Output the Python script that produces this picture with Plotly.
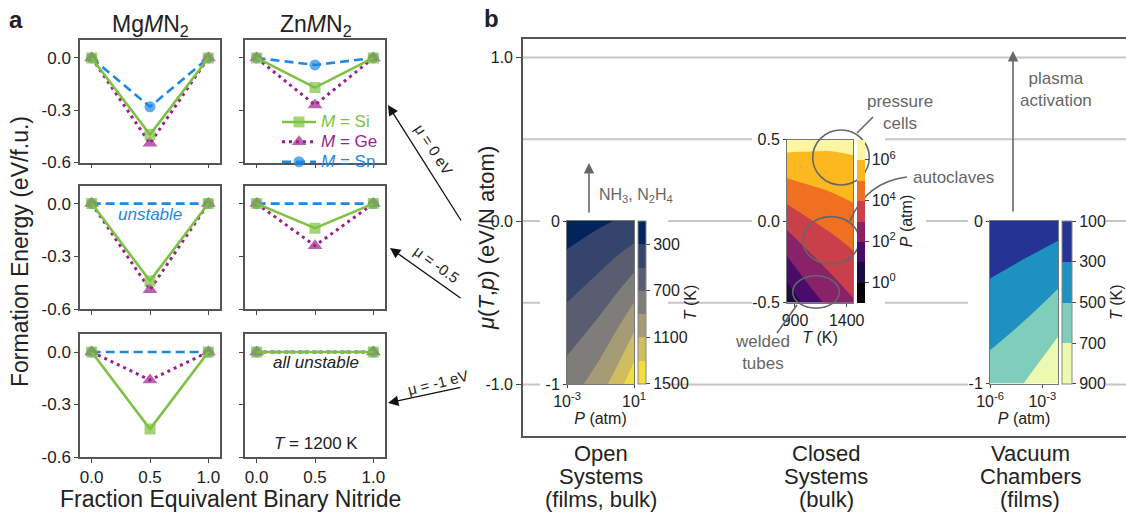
import plotly.graph_objects as go

W, H = 1126, 512
def X(px): return px / W
def Y(py): return 1 - py / H

FONT = "Liberation Sans, Arial, Helvetica, sans-serif"
INK = "#222222"
GRAY = "#666666"
FRAME = "#555555"

# ---------------- data: panel a ----------------
fraction = [0.0, 0.5, 1.0]
mu_rows = ["0 eV", "-0.5", "-1 eV"]
binary_end = 0.0
# formation energy of the 50 % compound (eV/f.u.) at each chemical potential row
mg_si = [-0.44, -0.44, -0.44]
mg_ge = [-0.49, -0.49, -0.16]
mg_sn = [-0.28, 0.00, 0.00]
zn_si = [-0.17, -0.14, 0.00]
zn_ge = [-0.27, -0.24, 0.00]
zn_sn = [-0.04, 0.00, 0.00]
hosts = ["Mg<i>M</i>N<sub>2</sub>", "Zn<i>M</i>N<sub>2</sub>"]
a_yticks = [0.0, -0.3, -0.6]
a_xticks = [0.0, 0.5, 1.0]

# ---------------- data: panel b insets ----------------
# open systems: T (K) over log10 P (atm) x mu (eV)
open_logp = [-3, -2, -1, 0, 1]
open_mu = [-1.0, 0.0]
open_T_mu_m1 = [806, 900, 1020, 1200, 1450]
open_T_mu_0 = [194, 230, 270, 310, 350]
open_levels = [300, 500, 700, 900, 1100, 1300]
open_T_range = [100, 1500]
open_cb_ticks = [300, 700, 1100, 1500]

# closed systems: log10 P (atm) over T (K) x mu (eV)
closed_T = [823, 1040, 1250, 1461]
closed_mu = [-0.5, 0.5]
closed_logp_mu_m05 = [0.2, 1.5, 2.3, 2.9]
closed_logp_mu_05 = [6.5, 6.36, 6.29, 6.33]
closed_logp_range = [-1, 7]
closed_cb_ticks = [0, 2, 4, 6]

# vacuum chambers: T (K) over log10 P (atm) x mu (eV)
vac_logp = [-6, -4, -2.1]
vac_mu = [-1.0, 0.0]
vac_T_mu_m1 = [593, 705, 895]
vac_T_mu_0 = [140, 178, 218]
vac_T_range = [100, 900]
vac_cb_ticks = [100, 300, 500, 700, 900]

# ---------------- styles ----------------
STY = {
    "Si": dict(color="#7dc242", dash="solid", symbol="square", size=11, width=2.6, rank=1),
    "Ge": dict(color="#9b1f8c", dash="3px,4px", symbol="triangle-up", size=13, width=3, rank=2),
    "Sn": dict(color="#1f88e3", dash="9px,5px", symbol="circle", size=11, width=2.6, rank=3),
}
series = {"Mg": {"Si": mg_si, "Ge": mg_ge, "Sn": mg_sn},
          "Zn": {"Si": zn_si, "Ge": zn_ge, "Sn": zn_sn}}

cols_px = [(80, 220), (245, 385)]
rows_px = [(40, 162.5), (185.5, 309), (334, 457)]

fig = go.Figure()
layout = dict(
    width=W, height=H, margin=dict(l=0, r=0, t=0, b=0),
    paper_bgcolor="white", plot_bgcolor="white", template="none",
    font=dict(family=FONT, color=INK, size=16), showlegend=True,
)

def aid(i):
    return "" if i == 1 else str(i)

for r in range(3):
    for c, host in enumerate(["Mg", "Zn"]):
        idx = r * 2 + c + 1
        for m in ["Sn", "Ge", "Si"]:
            st = STY[m]
            mid = series[host][m][r]
            stable = mid < 0
            sizes = [st["size"], st["size"] if stable else 0, st["size"]]
            fig.add_trace(go.Scatter(
                x=fraction, y=[binary_end, mid, binary_end], mode="lines+markers",
                xaxis="x" + aid(idx), yaxis="y" + aid(idx),
                line=dict(color=st["color"], dash=st["dash"], width=st["width"]),
                marker=dict(symbol=st["symbol"], size=sizes, color=st["color"], line=dict(width=0)),
                name=f"<span style='font-size:17px;color:{st['color']}'><i>M</i> = {m}</span>",
                legendrank=st["rank"], showlegend=(idx == 1), hoverinfo="skip"))
        x0, x1 = cols_px[c]
        y0, y1 = rows_px[r]
        layout["xaxis" + aid(idx)] = dict(
            domain=[X(x0), X(x1)], range=[-0.1, 1.1], anchor="y" + aid(idx),
            tickmode="array", tickvals=a_xticks,
            ticktext=[f"{v:.1f}" for v in a_xticks] if r == 2 else ["", "", ""],
            ticks="outside", ticklen=4, tickcolor="#444", tickfont=dict(size=17),
            showline=True, mirror=True, linecolor=FRAME, linewidth=1.5,
            showgrid=False, zeroline=False)
        layout["yaxis" + aid(idx)] = dict(
            domain=[Y(y1), Y(y0)], range=[-0.6, 0.103], anchor="x" + aid(idx),
            tickmode="array", tickvals=a_yticks,
            ticktext=[f"{v:.1f}" for v in a_yticks] if c == 0 else ["", "", ""],
            ticks="outside", ticklen=4, tickcolor="#444", tickfont=dict(size=17),
            showline=True, mirror=True, linecolor=FRAME, linewidth=1.5,
            showgrid=False, zeroline=False)

# ---------------- panel b main axis ----------------
PB_L, PB_R, PB_T, PB_B = 523, 1126, 39, 436
MU0_PY, PX_PER_MU = 221, 163.5
def bx(px): return (px - PB_L) / (PB_R - PB_L)
def by(py): return (MU0_PY - py) / PX_PER_MU

layout["xaxis7"] = dict(domain=[X(PB_L), 1.0], range=[0, 1], anchor="y7",
                        showline=True, mirror=True, linecolor=FRAME, linewidth=1.6,
                        showticklabels=False, ticks="", showgrid=False, zeroline=False)
layout["yaxis7"] = dict(domain=[Y(PB_B), Y(PB_T)], range=[by(PB_B), by(PB_T)], anchor="x7",
                        tickmode="array", tickvals=[-1, 0, 1], ticktext=["-1.0", "0.0", "1.0"],
                        ticks="outside", ticklen=5, tickcolor="#444", tickfont=dict(size=16),
                        showline=True, mirror=False, linecolor=FRAME, linewidth=1.6,
                        showgrid=False, zeroline=False)
fig.add_trace(go.Scatter(x=[None], y=[None], xaxis="x7", yaxis="y7", showlegend=False, hoverinfo="skip"))

def band_scale(colors):
    n = len(colors) - 1
    return [[i / n, col] for i, col in enumerate(colors)]

def cbar(x_px, top_px, bot_px, thick, tickvals, ticktext, title, outline):
    return dict(x=X(x_px), xanchor="left", xpad=0, ypad=0,
                y=Y((top_px + bot_px) / 2), yanchor="middle",
                lenmode="pixels", len=bot_px - top_px, thickness=thick,
                tickmode="array", tickvals=tickvals, ticktext=ticktext,
                ticks="outside", ticklen=4, tickcolor="#444", tickfont=dict(size=16, color=INK),
                outlinewidth=1 if outline else 0, outlinecolor="#888",
                title=dict(text=title, side="right", font=dict(size=16, color=INK)))

def inward(vals, lo, hi, eps):
    # keep edge ticks just inside the colour bar so they are drawn
    out = []
    for v in vals:
        if abs(v - lo) < 1e-9:
            v = v + eps
        elif abs(v - hi) < 1e-9:
            v = v - eps
        out.append(v)
    return out

# open systems (colour = T, reversed bar via -T)
open_cols = ["#f3dc3d", "#d0bd62", "#a59c77", "#7e7d79", "#5a5d6f", "#35446d", "#01245c"]
fig.add_trace(go.Contour(
    x=open_logp, y=open_mu, z=[[-t for t in open_T_mu_m1], [-t for t in open_T_mu_0]],
    xaxis="x8", yaxis="y8", colorscale=band_scale(open_cols),
    zmin=-open_T_range[1], zmax=-open_T_range[0],
    contours=dict(start=-max(open_levels), end=-min(open_levels), size=200, coloring="fill"),
    line=dict(width=0), hoverinfo="skip", showlegend=False,
    colorbar=cbar(637.5, 221, 384, 7.5,
                  inward([-v for v in open_cb_ticks], -open_T_range[1], -open_T_range[0], 3),
                  [str(v) for v in open_cb_ticks], "<i>T</i> (K)", True)))

# closed systems (colour = log10 P)
closed_cols = ["#000004", "#1b0c41", "#4a0c6b", "#8a226a", "#c93f4a", "#ef7021", "#fbb91f", "#fcf6a2"]
fig.add_trace(go.Contour(
    x=closed_T, y=closed_mu, z=[closed_logp_mu_m05, closed_logp_mu_05],
    xaxis="x9", yaxis="y9", colorscale=band_scale(closed_cols),
    zmin=closed_logp_range[0], zmax=closed_logp_range[1],
    contours=dict(start=0, end=6, size=1, coloring="fill"),
    line=dict(width=0), hoverinfo="skip", showlegend=False,
    colorbar=cbar(857, 139.5, 302.5, 8, closed_cb_ticks,
                  [f"10<sup>{v}</sup>" for v in closed_cb_ticks], "<i>P</i> (atm)", False)))

# vacuum chambers (colour = T, reversed bar via -T)
vac_cols = ["#edf8b1", "#7fcdbb", "#1d91c0", "#253494"]
fig.add_trace(go.Contour(
    x=vac_logp, y=vac_mu, z=[[-t for t in vac_T_mu_m1], [-t for t in vac_T_mu_0]],
    xaxis="x10", yaxis="y10", colorscale=band_scale(vac_cols),
    zmin=-vac_T_range[1], zmax=-vac_T_range[0],
    contours=dict(start=-700, end=-300, size=200, coloring="fill"),
    line=dict(width=0), hoverinfo="skip", showlegend=False,
    colorbar=cbar(1062, 221, 383.5, 9.5,
                  inward([-v for v in vac_cb_ticks], -vac_T_range[1], -vac_T_range[0], 3),
                  [str(v) for v in vac_cb_ticks], "<i>T</i> (K)", True)))

def inset_axes(n, xpx, ypx, xr, yr, xt, xtt, yt, ytt, xtitle):
    layout[f"xaxis{n}"] = dict(domain=[X(xpx[0]), X(xpx[1])], range=xr, anchor=f"y{n}",
                               tickmode="array", tickvals=xt, ticktext=xtt, ticks="outside", ticklen=3,
                               tickcolor="#444", tickfont=dict(size=16),
                               title=dict(text=xtitle, font=dict(size=16), standoff=0),
                               showline=True, mirror=True, linecolor="#777", linewidth=1,
                               showgrid=False, zeroline=False)
    layout[f"yaxis{n}"] = dict(domain=[Y(ypx[1]), Y(ypx[0])], range=yr, anchor=f"x{n}",
                               tickmode="array", tickvals=yt, ticktext=ytt, ticks="outside", ticklen=3,
                               tickcolor="#444", tickfont=dict(size=16),
                               showline=True, mirror=True, linecolor="#777", linewidth=1,
                               showgrid=False, zeroline=False)

inset_axes(8, (567, 634), (221, 384), [-3, 1], [-1, 0], [-3, 1],
           ["10<sup>-3</sup>", "10<sup>1</sup>"], [-1, 0], ["-1", "0"], "<i>P</i> (atm)")
inset_axes(9, (787, 853), (139.5, 302.5), [823, 1461], [-0.5, 0.5], [900, 1400],
           ["900", "1400"], [-0.5, 0, 0.5], ["-0.5", "0.0", "0.5"], "<i>T</i> (K)")
inset_axes(10, (990, 1058), (221, 383.5), [-6, -2.1], [-1, 0], [-6, -3],
           ["10<sup>-6</sup>", "10<sup>-3</sup>"], [-1, 0], ["-1", "0"], "<i>P</i> (atm)")

# ---------------- shapes ----------------
shapes = []
for v in [-1, -0.5, 0, 0.5, 1]:
    shapes.append(dict(type="line", xref="x7", yref="y7", x0=0, x1=1, y0=v, y1=v,
                       line=dict(color="#c6c6c6", width=1.8), layer="below"))
for (l, t, rr, b) in [(540, 210, 668, 395), (752, 128, 885, 350), (885, 180, 926, 252),
                      (968, 210, 1106, 395), (1106, 268, 1126, 338)]:
    shapes.append(dict(type="rect", xref="x7", yref="y7", x0=bx(l), x1=bx(rr), y0=by(b), y1=by(t),
                       fillcolor="white", line=dict(width=0), layer="below"))

def ellipse(cx, cy, rx, ry):
    return dict(type="circle", xref="paper", yref="paper", x0=X(cx - rx), x1=X(cx + rx),
                y0=Y(cy + ry), y1=Y(cy - ry), line=dict(color=GRAY, width=1.6), layer="above")
shapes += [ellipse(841, 157.5, 28.3, 27.5), ellipse(831, 240.3, 28.2, 23.7), ellipse(816, 292, 23.3, 16.2)]
def seg(x0, y0, x1, y1):
    return dict(type="line", xref="paper", yref="paper", x0=X(x0), y0=Y(y0), x1=X(x1), y1=Y(y1),
                line=dict(color=GRAY, width=1.6), layer="above")
shapes += [seg(857, 133, 873, 117), seg(777, 333, 797, 305)]
shapes.append(dict(type="path", xref="paper", yref="paper",
                   path=f"M {X(850)},{Y(221)} Q {X(866)},{Y(182)} {X(907)},{Y(177)}",
                   line=dict(color=GRAY, width=1.6), layer="above"))
layout["shapes"] = shapes

# ---------------- annotations ----------------
ann = []
def text(x, y, s, size=16, color=INK, angle=0, xanchor="center"):
    ann.append(dict(x=X(x), y=Y(y), xref="paper", yref="paper", text=s, showarrow=False,
                    xanchor=xanchor, yanchor="middle", textangle=angle,
                    font=dict(size=size, color=color, family=FONT)))
def arrow(hx, hy, tx, ty, color, width, size):
    ann.append(dict(x=X(hx), y=Y(hy), xref="paper", yref="paper", ax=tx - hx, ay=ty - hy,
                    axref="pixel", ayref="pixel", text="", showarrow=True, arrowhead=2,
                    arrowsize=size, arrowwidth=width, arrowcolor=color, standoff=0, startstandoff=0))

text(16, 19, "<b>a</b>", 24)
text(491, 18, "<b>b</b>", 24)
text(150, 25, hosts[0], 23)
text(316, 25, hosts[1], 23)
text(20, 252, "Formation Energy (eV/f.u.)", 23, angle=-90)
text(230, 499, "Fraction Equivalent Binary Nitride", 23)
text(150, 214, "<i>unstable</i>", 17, STY["Sn"]["color"])
text(316, 362, "<i>all unstable</i>", 17)
text(316, 443, "<i>T</i> = 1200 K", 17)

# chemical-potential arrows linking panels
arrow(388, 105, 462, 222, "#111111", 1.3, 1.6)
arrow(390, 248, 462, 299, "#111111", 1.3, 1.6)
arrow(388, 403, 462, 387, "#111111", 1.3, 1.6)
text(434, 149, f"μ = {mu_rows[0]}", 15, angle=57)
text(437, 264, f"μ = {mu_rows[1]}", 15, angle=36)
text(438, 382, f"μ = {mu_rows[2]}", 15, angle=-14)

text(486, 238, "<i>μ</i>(<i>T</i>,<i>p</i>) (eV/N atom)", 22, angle=-90)

arrow(589, 163, 589, 214, GRAY, 1.6, 1.3)
text(597, 195, "NH<sub>3</sub>, N<sub>2</sub>H<sub>4</sub>", 16, GRAY, xanchor="left")
arrow(1013, 51, 1013, 213, GRAY, 1.6, 1.3)
text(1018, 89, "plasma<br>activation", 17, GRAY, xanchor="left")
text(900, 112, "pressure<br>cells", 17, GRAY)
text(911, 177, "autoclaves", 17, GRAY, xanchor="left")
text(762, 352, "welded<br>tubes", 17, GRAY)

for cx, lines in [(601, ["Open", "Systems", "(films, bulk)"]),
                  (826, ["Closed", "Systems", "(bulk)"]),
                  (1030, ["Vacuum", "Chambers", "(films)"])]:
    for k, s in enumerate(lines):
        text(cx, 453 + 23 * k, s, 22)
layout["annotations"] = ann

layout["legend"] = dict(x=X(277), y=Y(107), xanchor="left", yanchor="top",
                        bgcolor="rgba(0,0,0,0)", borderwidth=0, font=dict(size=13),
                        tracegroupgap=0, itemwidth=34)

fig.update_layout(**layout)
fig.write_html("out.html")
